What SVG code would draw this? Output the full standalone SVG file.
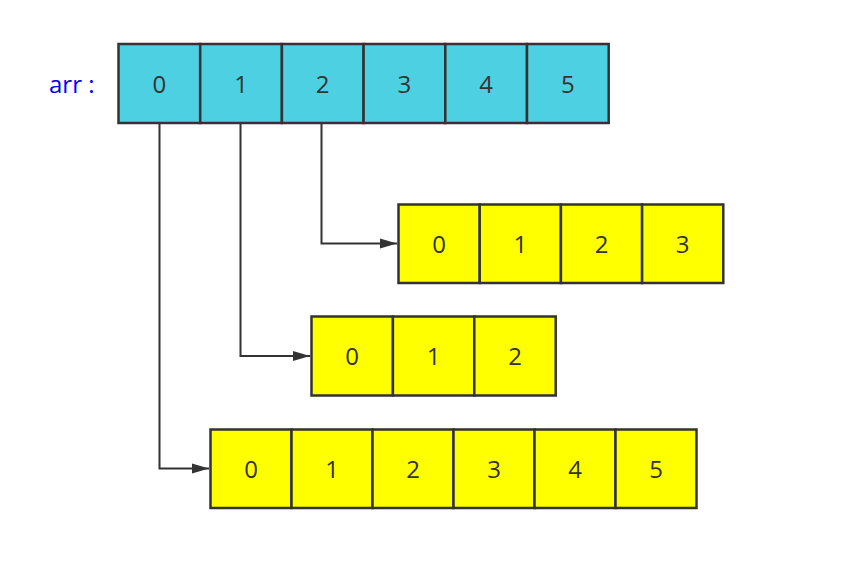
<svg xmlns="http://www.w3.org/2000/svg" width="860" height="564" viewBox="0 0 860 564">
<defs>
<style>
.cyan rect{fill:#4dd0e1;stroke:#333;stroke-width:2.5}
.yel rect{fill:#ffff00;stroke:#333;stroke-width:2.5}
text{font-family:"Open Sans","Noto Sans",sans-serif;font-size:24px;fill:#333;text-anchor:middle;dominant-baseline:central}
.lbl{fill:#0000ff;text-anchor:start}
.conn path{fill:none;stroke:#333;stroke-width:2}
</style>
<marker id="ah" markerWidth="18" markerHeight="12" refX="17" refY="6" orient="auto" markerUnits="userSpaceOnUse" viewBox="0 0 18 12">
<path d="M0,1 L17,6 L0,11 Z" fill="#333"/>
</marker>
</defs>
<rect width="860" height="564" fill="#fff"/>
<text class="lbl" x="49" y="83">arr :</text>
<g id="arr" class="cyan">
<rect x="118.5" y="44" width="81.7" height="79"/>
<rect x="200.2" y="44" width="81.7" height="79"/>
<rect x="281.9" y="44" width="81.7" height="79"/>
<rect x="363.6" y="44" width="81.7" height="79"/>
<rect x="445.3" y="44" width="81.7" height="79"/>
<rect x="527" y="44" width="81.7" height="79"/>
<text x="159.3" y="83">0</text><text x="241" y="83">1</text><text x="322.7" y="83">2</text><text x="404.4" y="83">3</text><text x="486.1" y="83">4</text><text x="567.8" y="83">5</text>
</g>
<g id="row0" class="yel">
<rect x="398.5" y="204.5" width="81.2" height="78.5"/>
<rect x="479.7" y="204.5" width="81.2" height="78.5"/>
<rect x="560.9" y="204.5" width="81.2" height="78.5"/>
<rect x="642.1" y="204.5" width="81.2" height="78.5"/>
<text x="439" y="243">0</text><text x="520.3" y="243">1</text><text x="601.5" y="243">2</text><text x="682.7" y="243">3</text>
</g>
<g id="row1" class="yel">
<rect x="311.5" y="316.5" width="81.4" height="79"/>
<rect x="392.9" y="316.5" width="81.4" height="79"/>
<rect x="474.3" y="316.5" width="81.4" height="79"/>
<text x="352.2" y="355">0</text><text x="433.6" y="355">1</text><text x="515" y="355">2</text>
</g>
<g id="row2" class="yel">
<rect x="210.5" y="429.5" width="81" height="78.5"/>
<rect x="291.5" y="429.5" width="81" height="78.5"/>
<rect x="372.5" y="429.5" width="81" height="78.5"/>
<rect x="453.5" y="429.5" width="81" height="78.5"/>
<rect x="534.5" y="429.5" width="81" height="78.5"/>
<rect x="615.5" y="429.5" width="81" height="78.5"/>
<text x="251" y="468">0</text><text x="332" y="468">1</text><text x="413" y="468">2</text><text x="494" y="468">3</text><text x="575" y="468">4</text><text x="656" y="468">5</text>
</g>
<g id="connectors" class="conn">
<path d="M321.5,123 V243.5 H397" marker-end="url(#ah)"/>
<path d="M240.5,123 V356 H310" marker-end="url(#ah)"/>
<path d="M159.5,123 V468.5 H209" marker-end="url(#ah)"/>
</g>
</svg>
